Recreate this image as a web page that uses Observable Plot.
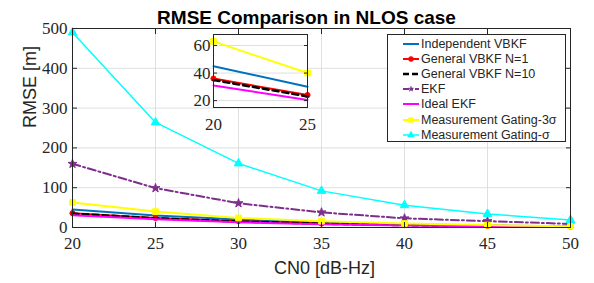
<!DOCTYPE html>
<html>
<head>
<meta charset="utf-8">
<script src="https://cdn.jsdelivr.net/npm/d3@7"></script>
<script src="https://cdn.jsdelivr.net/npm/@observablehq/plot@0.6"></script>
<style>
  html, body { margin: 0; padding: 0; background: white; }
  #wrap { position: relative; width: 594px; height: 283px; overflow: hidden; }
  #wrap svg { position: absolute; }
  #legend { position: absolute; left: 387px; top: 34px; width: 179px; height: 108px;
    border: 1px solid #262626; background: white; box-sizing: border-box;
    font-family: "Liberation Sans", Arial, sans-serif; font-size: 12.5px; color: #262626; }
  .row { position: absolute; left: 14px; height: 15px; display: flex; align-items: center; white-space: nowrap; }
  .row svg { position: static !important; margin-right: 1px; }
</style>
</head>
<body>
<div id="wrap"></div>
<script>
// ---- data ----
const cn0 = [20, 25, 30, 35, 40, 45, 50];
const independentVBKF = [45, 30, 20, 12, 8, 5, 3];
const generalVBKF1 = [36, 24, 16, 10, 6, 4, 2];
const generalVBKF10 = [35, 23, 15, 9.5, 6, 3.8, 2];
const ekf = [160, 99, 61, 38, 23, 16, 9];
const idealEKF = [31, 20.5, 13, 8, 5, 3, 1.5];
const gating3 = [63, 40, 24, 16, 10, 6, 3];
const gatingS = [490, 264, 161, 92, 56, 34, 19];

const seriesNames = ["Independent VBKF", "General VBKF N=1", "General VBKF N=10", "EKF", "Ideal EKF", "Measurement Gating-3σ", "Measurement Gating-σ"];
const seriesValues = [independentVBKF, generalVBKF1, generalVBKF10, ekf, idealEKF, gating3, gatingS];
const xTicks = [20, 25, 30, 35, 40, 45, 50];
const yTicks = [0, 100, 200, 300, 400, 500];
const insetXTicks = [20, 25];
const insetYTicks = [20, 40, 60];
const titleText = "RMSE Comparison in NLOS case";
const xLabel = "CN0 [dB-Hz]";
const yLabel = "RMSE [m]";

// ---- styles ----
const styles = [
  {stroke: "#0072BD", width: 2, dash: null, symbol: null},
  {stroke: "#FF0000", width: 2, dash: null, symbol: "circle", r: 2.6, legendSize: 20},
  {stroke: "#000000", width: 2.5, dash: "6,4", symbol: null},
  {stroke: "#7E2F8E", width: 2, dash: "8,3,2,3", symbol: "star", r: 2.8, legendSize: 9},
  {stroke: "#FF00FF", width: 2, dash: null, symbol: null},
  {stroke: "#FFFF00", width: 2, dash: null, symbol: "square", r: 3.2, legendSize: 22},
  {stroke: "#00FFFF", width: 1.5, dash: null, symbol: "triangle", r: 3.2, legendSize: 20}
];

const rows = seriesNames.map((name, i) => cn0.map((x, j) => ({x, y: seriesValues[i][j], s: name})));

function seriesMarks(filterX) {
  const marks = [];
  rows.forEach((data, i) => {
    const st = styles[i];
    const d = filterX ? data.filter(filterX) : data;
    marks.push(Plot.line(d, {x: "x", y: "y", stroke: st.stroke, strokeWidth: st.width, strokeDasharray: st.dash}));
    if (st.symbol) marks.push(Plot.dot(d, {x: "x", y: "y", symbol: st.symbol, r: st.r, fill: st.stroke, stroke: st.stroke, strokeWidth: 1}));
  });
  return marks;
}

const axisColor = "#262626";
const gridColor = "#dfdfdf";
const serif = "'Liberation Serif', 'DejaVu Serif', serif";
const sans = "'Liberation Sans', Arial, sans-serif";

const main = Plot.plot({
  width: 594, height: 283,
  marginLeft: 72, marginRight: 24, marginTop: 28, marginBottom: 56,
  x: {domain: [20, 50]},
  y: {domain: [0, 500]},
  style: {fontFamily: serif, fontSize: "17px", color: axisColor, background: "transparent", overflow: "visible"},
  marks: [
    Plot.gridX(xTicks, {stroke: gridColor, strokeOpacity: 1}),
    Plot.gridY(yTicks, {stroke: gridColor, strokeOpacity: 1}),
    ...seriesMarks(),
    Plot.frame({stroke: axisColor, strokeWidth: 1}),
    Plot.axisX(xTicks, {anchor: "bottom", tickSize: -5, tickPadding: 14, label: null, stroke: axisColor, fill: axisColor}),
    Plot.axisX(xTicks, {anchor: "top", tickSize: -5, tickFormat: () => "", label: null, stroke: axisColor}),
    Plot.axisY(yTicks, {anchor: "left", tickSize: -5, tickPadding: 10, label: null, stroke: axisColor, fill: axisColor}),
    Plot.axisY(yTicks, {anchor: "right", tickSize: -5, tickFormat: () => "", label: null, stroke: axisColor}),
    Plot.text([titleText], {frameAnchor: "top", dx: -15, dy: -5, lineAnchor: "bottom", fontFamily: sans, fontWeight: "bold", fontSize: 19, fill: "#000"}),
    Plot.text([xLabel], {frameAnchor: "bottom", dx: 3, dy: 46, lineAnchor: "bottom", fontFamily: sans, fontSize: 18, fill: axisColor}),
    Plot.text([yLabel], {frameAnchor: "left", dx: -37, rotate: -90, lineAnchor: "bottom", fontFamily: sans, fontSize: 18, fill: axisColor})
  ]
});
main.style.left = "0px"; main.style.top = "0px";

const inset = Plot.plot({
  width: 132, height: 97,
  marginLeft: 30, marginRight: 8, marginTop: 2, marginBottom: 22,
  x: {domain: [20, 25]},
  y: {domain: [15, 68]},
  style: {fontFamily: serif, fontSize: "17px", color: axisColor, background: "transparent", overflow: "visible"},
  marks: [
    Plot.frame({fill: "white", stroke: null}),
    Plot.gridY(insetYTicks, {stroke: gridColor, strokeOpacity: 1}),
    ...seriesMarks(d => d.x <= 25),
    Plot.frame({stroke: axisColor, strokeWidth: 1}),
    Plot.axisX(insetXTicks, {anchor: "bottom", tickSize: -4, tickPadding: 14, label: null, stroke: axisColor, fill: axisColor}),
    Plot.axisX(insetXTicks, {anchor: "top", tickSize: -4, tickFormat: () => "", label: null, stroke: axisColor}),
    Plot.axisY(insetYTicks, {anchor: "left", tickSize: -4, tickPadding: 7, label: null, stroke: axisColor, fill: axisColor}),
    Plot.axisY(insetYTicks, {anchor: "right", tickSize: -4, tickFormat: () => "", label: null, stroke: axisColor})
  ]
});
inset.style.left = "183px"; inset.style.top = "32px";

const wrap = document.getElementById("wrap");
wrap.appendChild(main);
wrap.appendChild(inset);

// legend
const legend = document.createElement("div");
legend.id = "legend";
seriesNames.forEach((name, i) => {
  const st = styles[i];
  const row = document.createElement("div");
  row.className = "row";
  row.style.top = (1 + i * 15.2) + "px";
  const s = d3.create("svg").attr("width", 18).attr("height", 12);
  s.append("line").attr("x1", 1).attr("x2", 17).attr("y1", 6).attr("y2", 6)
    .attr("stroke", st.stroke).attr("stroke-width", st.width)
    .attr("stroke-dasharray", st.dash ? (i === 2 ? "6,3" : "6,2,2,2") : null);
  if (st.symbol) {
    const sym = {circle: d3.symbolCircle, star: d3.symbolStar, square: d3.symbolSquare, triangle: d3.symbolTriangle}[st.symbol];
    s.append("path").attr("transform", "translate(9,6)")
      .attr("d", d3.symbol(sym, st.legendSize)())
      .attr("fill", st.stroke).attr("stroke", st.stroke).attr("stroke-width", 0.5);
  }
  row.appendChild(s.node());
  const t = document.createElement("span");
  t.textContent = name;
  row.appendChild(t);
  legend.appendChild(row);
});
wrap.appendChild(legend);
</script>
</body>
</html>
